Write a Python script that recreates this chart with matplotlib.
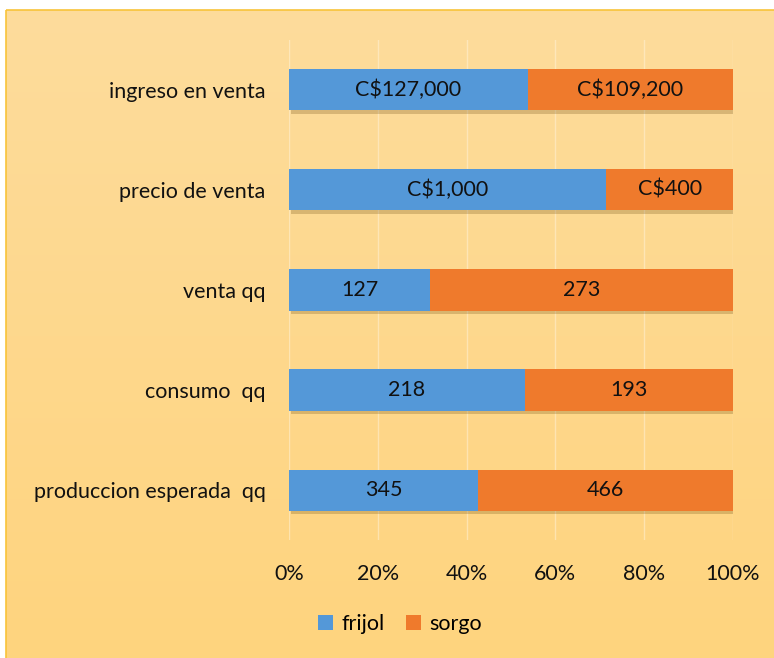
import matplotlib
matplotlib.use("Agg")
import matplotlib.pyplot as plt
import matplotlib.patheffects as pe
from matplotlib.patches import Rectangle, Patch
import numpy as np

categories = ["ingreso en venta", "precio de venta", "venta qq", "consumo  qq", "produccion esperada  qq"]
frijol = [127000, 1000, 127, 218, 345]
sorgo = [109200, 400, 273, 193, 466]
frijol_labels = ["C$127,000", "C$1,000", "127", "218", "345"]
sorgo_labels = ["C$109,200", "C$400", "273", "193", "466"]
xticks = [0, 20, 40, 60, 80, 100]
xtick_labels = ["0%", "20%", "40%", "60%", "80%", "100%"]

plt.rcParams['font.family'] = ['Lato', 'DejaVu Sans']
FS = 15.5

W, H = 774, 658
fig = plt.figure(figsize=(W / 100, H / 100), dpi=100)
fig.patch.set_facecolor("white")

# background gradient panel
bg = fig.add_axes([0, 0, 1, 1], zorder=-10)
bg.set_xlim(0, W)
bg.set_ylim(H, 0)
bg.axis("off")
grad = np.linspace(0, 1, 256).reshape(-1, 1)
c_top = np.array([253, 220, 156]) / 255
c_bot = np.array([255, 212, 126]) / 255
img = c_top[None, None, :] * (1 - grad[:, :, None]) + c_bot[None, None, :] * grad[:, :, None]
bg.imshow(img, extent=[6, W + 5, H + 5, 10], aspect="auto", zorder=0)
bg.add_patch(Rectangle((6, 10), W, H, fill=False, edgecolor="#F8C33A", lw=1.2, zorder=1))

ax = fig.add_axes([289 / W, 1 - 540 / H, (733 - 289) / W, 500 / H])
ax.set_facecolor("none")

tot = [f + s for f, s in zip(frijol, sorgo)]
fp = [100 * f / t for f, t in zip(frijol, tot)]
sp = [100 * s / t for s, t in zip(sorgo, tot)]
y = np.arange(len(categories))

shadow = [pe.SimplePatchShadow(offset=(1.5, -2.5), shadow_rgbFace="#6a4a10", alpha=0.25), pe.Normal()]
b1 = ax.barh(y, fp, height=0.41, color="#5498D8", path_effects=shadow, zorder=3)
b2 = ax.barh(y, sp, left=fp, height=0.41, color="#EF7A2C", path_effects=shadow, zorder=3)

for i in range(len(categories)):
    ax.text(fp[i] / 2, y[i], frijol_labels[i], ha="center", va="center", fontsize=FS, color="#111111", zorder=5)
    ax.text(fp[i] + sp[i] / 2, y[i], sorgo_labels[i], ha="center", va="center", fontsize=FS, color="#111111", zorder=5)

ax.set_ylim(len(categories) - 0.5, -0.5)
ax.set_xlim(0, 100)
ax.set_yticks(y)
ax.set_yticklabels(categories, fontsize=FS, color="#111111")
ax.set_xticks(xticks)
ax.set_xticklabels(xtick_labels, fontsize=FS, color="#111111")
ax.tick_params(axis="both", length=0)
ax.tick_params(axis="y", pad=17)
ax.tick_params(axis="x", pad=17)
for s in ax.spines.values():
    s.set_visible(False)
ax.xaxis.grid(True, color="#FFF3DA", lw=1, alpha=0.5, zorder=0)
ax.set_axisbelow(True)

handles = [Patch(facecolor="#5498D8", label="frijol"), Patch(facecolor="#EF7A2C", label="sorgo")]
fig.legend(handles=handles, loc="center", bbox_to_anchor=(400 / W, 1 - 624 / H), ncol=2,
           frameon=False, fontsize=FS, handlelength=0.7, handleheight=0.7, handletextpad=0.4,
           columnspacing=1.0)

fig.savefig("out.png", dpi=100, facecolor=fig.get_facecolor())
